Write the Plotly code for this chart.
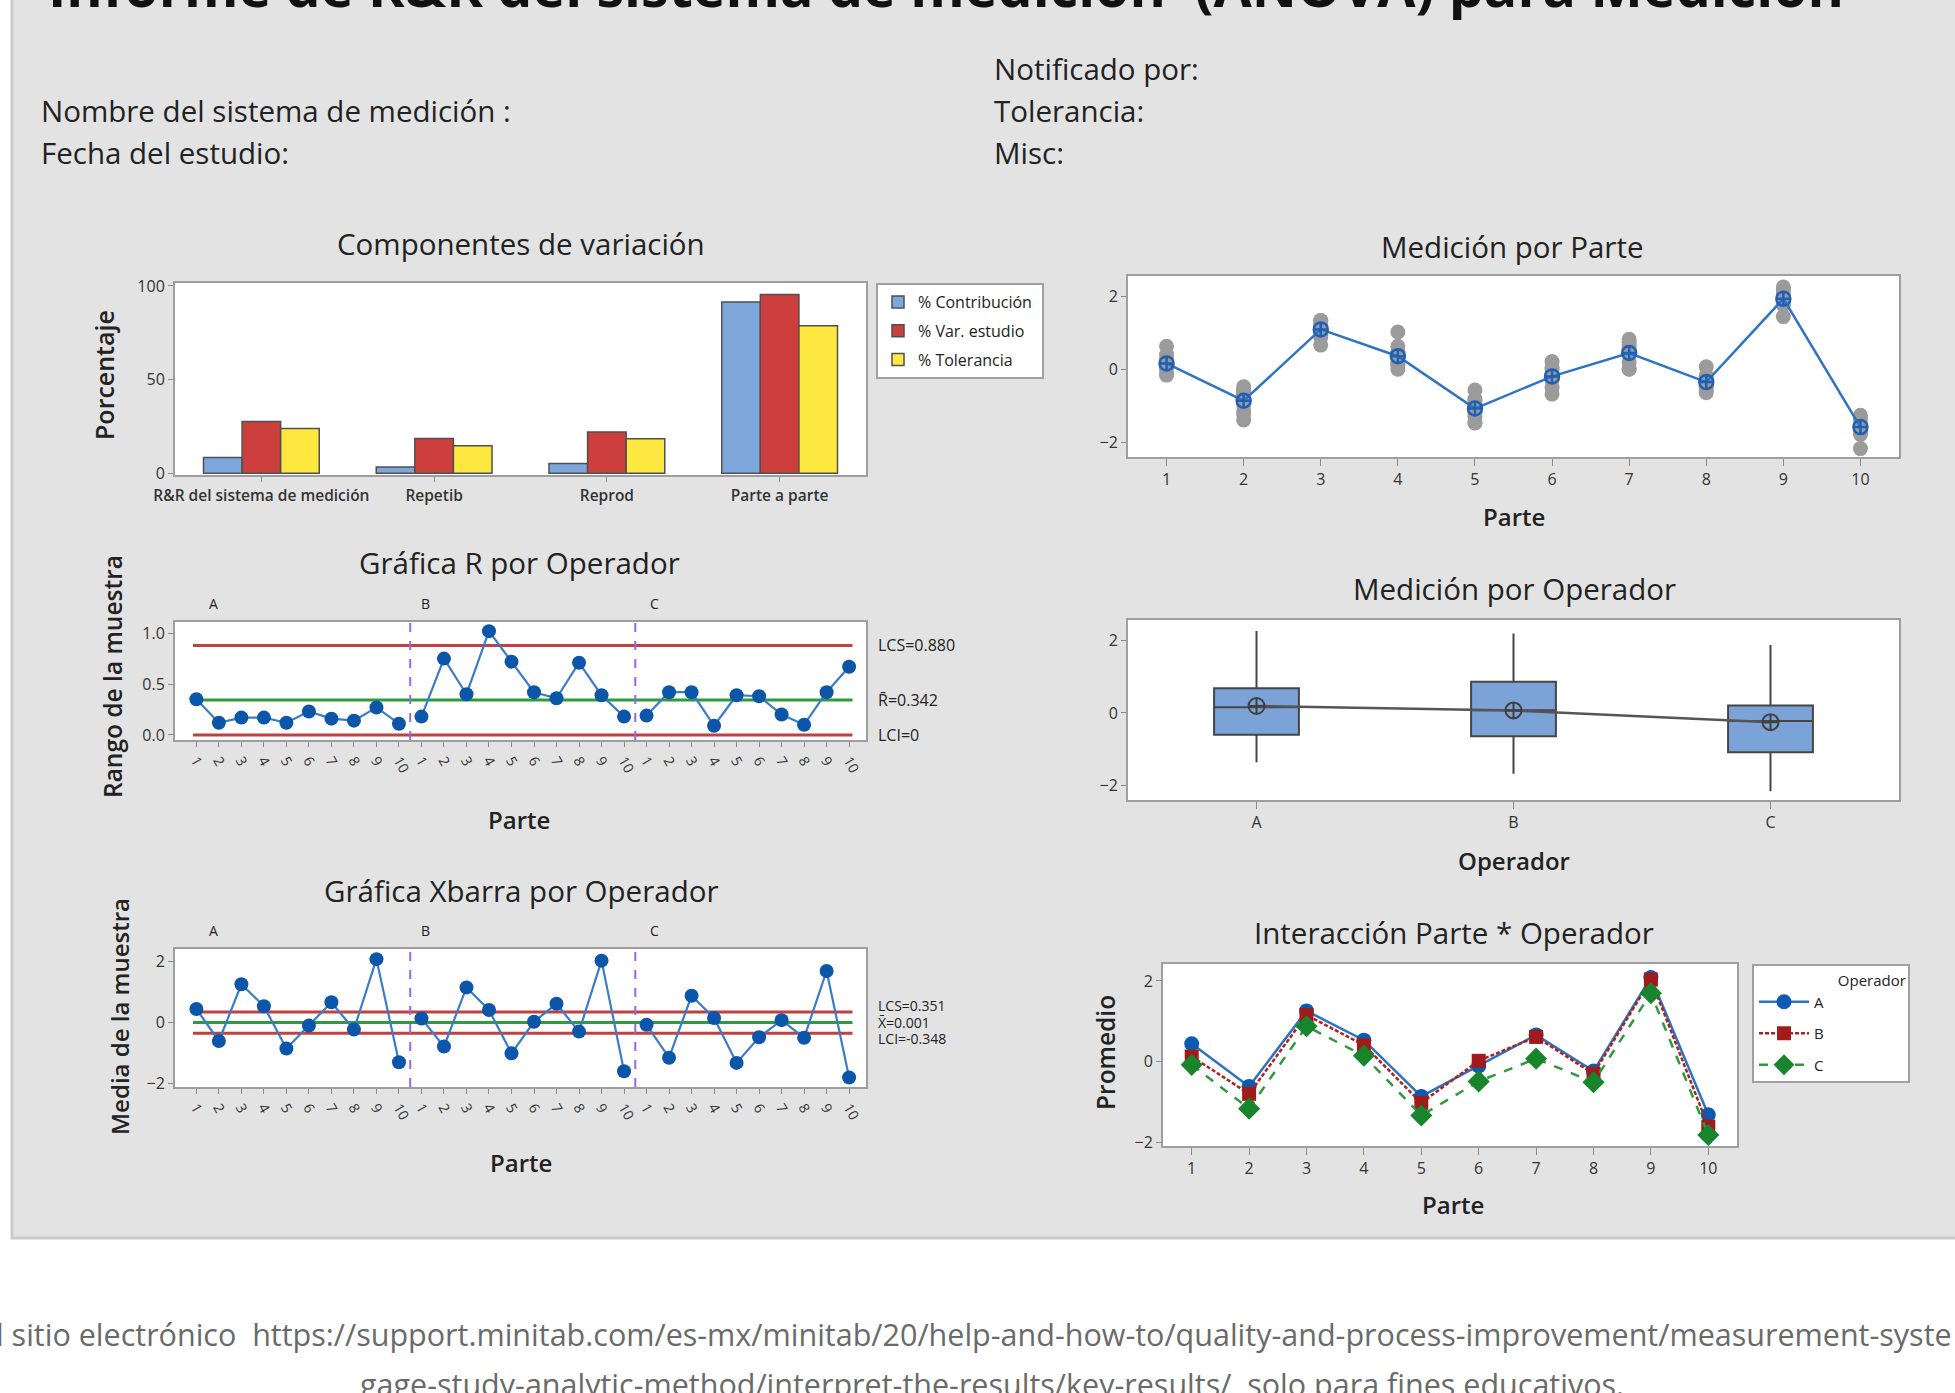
import numpy as np
import plotly.graph_objects as go

W, H = 1955, 1393
FONT = "Open Sans"

# ---------------- data ----------------
components = ["R&R del sistema de medición", "Repetib", "Reprod", "Parte a parte"]
pct_contribucion = [8.4, 3.3, 5.1, 91.5]
pct_var_estudio = [27.6, 18.5, 22.0, 95.4]
pct_tolerancia = [23.9, 14.6, 18.4, 78.8]

parts = [1, 2, 3, 4, 5, 6, 7, 8, 9, 10]
operators = ["A", "B", "C"]

A_t1 = [0.29, -0.56, 1.34, 0.47, -0.80, 0.02, 0.59, -0.31, 2.26, -1.36]
A_t2 = [0.41, -0.68, 1.17, 0.50, -0.92, -0.11, 0.75, -0.20, 1.99, -1.25]
A_t3 = [0.64, -0.58, 1.27, 0.64, -0.84, -0.21, 0.66, -0.17, 2.01, -1.31]
B_t1 = [0.08, -0.47, 1.19, 0.01, -0.56, -0.20, 0.47, -0.63, 1.80, -1.68]
B_t2 = [0.25, -1.22, 0.94, 1.03, -1.20, 0.22, 0.55, 0.08, 2.12, -1.62]
B_t3 = [0.07, -0.68, 1.34, 0.20, -1.28, 0.06, 0.83, -0.34, 2.19, -1.50]
C_t1 = [0.04, -1.38, 0.88, 0.14, -1.46, -0.29, 0.02, -0.46, 1.77, -1.49]
C_t2 = [-0.11, -1.13, 1.09, 0.20, -1.07, -0.67, 0.01, -0.56, 1.45, -1.77]
C_t3 = [-0.15, -0.96, 0.67, 0.11, -1.45, -0.49, 0.21, -0.49, 1.87, -2.16]

r_lcs, r_bar, r_lci = 0.880, 0.342, 0.0
x_lcs, x_bar, x_lci = 0.351, 0.001, -0.348

# ---------------- helpers ----------------
def fx(p):
    return p / W


def fy(p):
    return 1 - p / H


trials = {"A": [A_t1, A_t2, A_t3], "B": [B_t1, B_t2, B_t3], "C": [C_t1, C_t2, C_t3]}
means = {op: [float(np.mean([t[i] for t in trials[op]])) for i in range(10)] for op in operators}
ranges = {op: [max(t[i] for t in trials[op]) - min(t[i] for t in trials[op]) for i in range(10)] for op in operators}
seq_x = {op: [k * 10 + p for p in parts] for k, op in enumerate(operators)}

fig = go.Figure()

# ---- Componentes de variacion ----
bar_line = dict(color="#505050", width=1.5)
for name, vals, col in [("% Contribución", pct_contribucion, "#7DA7DA"),
                        ("% Var. estudio", pct_var_estudio, "#CC3F3D"),
                        ("% Tolerancia", pct_tolerancia, "#FDE840")]:
    fig.add_trace(go.Bar(x=components, y=vals, name=name + "\u00a0", legendgroup=name,
                         marker=dict(color=col, line=bar_line), xaxis="x", yaxis="y", legend="legend"))

# ---- R chart ----
for op in operators:
    fig.add_trace(go.Scatter(x=seq_x[op], y=ranges[op], mode="lines+markers", xaxis="x2", yaxis="y2",
                             line=dict(color="#3B7CC9", width=2.2),
                             marker=dict(color="#0B56A8", size=14), showlegend=False))

# ---- Xbar chart ----
for op in operators:
    fig.add_trace(go.Scatter(x=seq_x[op], y=means[op], mode="lines+markers", xaxis="x3", yaxis="y3",
                             line=dict(color="#3B7CC9", width=2.2),
                             marker=dict(color="#0B56A8", size=14), showlegend=False))

# ---- Medicion por Parte ----
gx, gy = [], []
for op in operators:
    for t in trials[op]:
        gx += parts
        gy += t
fig.add_trace(go.Scatter(x=gx, y=gy, mode="markers", xaxis="x4", yaxis="y4",
                         marker=dict(color="#9B9B9B", size=15), showlegend=False))
part_means = [float(np.mean([trials[op][t][i] for op in operators for t in range(3)])) for i in range(10)]
fig.add_trace(go.Scatter(x=parts, y=part_means, mode="lines+markers", xaxis="x4", yaxis="y4",
                         line=dict(color="#2F74C2", width=2.5),
                         marker=dict(symbol="circle-cross-open", color="#1F5FB4", size=14, line=dict(width=2.5)),
                         showlegend=False))

# ---- Medicion por Operador (boxes) ----
q1s, meds, q3s, los, his, mns = [], [], [], [], [], []
for op in operators:
    vals = np.array([v for t in trials[op] for v in t])
    q1, md, q3 = np.percentile(vals, [25, 50, 75], method="weibull")
    iqr = q3 - q1
    lo = vals[vals >= q1 - 1.5 * iqr].min()
    hi = vals[vals <= q3 + 1.5 * iqr].max()
    q1s.append(q1); meds.append(md); q3s.append(q3); los.append(lo); his.append(hi)
    mns.append(vals.mean())
op_pos = [1, 2, 3]
fig.add_trace(go.Scatter(x=op_pos, y=mns, mode="lines", xaxis="x5", yaxis="y5",
                         line=dict(color="#555555", width=2.5), showlegend=False))
fig.add_trace(go.Box(x=op_pos, q1=q1s, median=meds, q3=q3s, lowerfence=los, upperfence=his,
                     xaxis="x5", yaxis="y5", width=0.33, whiskerwidth=0,
                     fillcolor="#7BA3D8", line=dict(color="#454545", width=2), showlegend=False))
fig.add_trace(go.Scatter(x=op_pos, y=mns, mode="markers", xaxis="x5", yaxis="y5",
                         marker=dict(symbol="circle-cross-open", color="#404040", size=16, line=dict(width=2)),
                         showlegend=False))

# ---- Interaccion ----
styles = {
    "A": dict(color="#2E72C4", dash="solid", sym="circle", mcol="#0B5BB5", size=15),
    "B": dict(color="#A82424", dash="4px,2px", sym="square", mcol="#A11B1B", size=14),
    "C": dict(color="#2E9A3E", dash="dash", sym="diamond", mcol="#17852B", size=17),
}
for op in operators:
    s = styles[op]
    fig.add_trace(go.Scatter(x=parts, y=means[op], name=op + "\u00a0" * 17, mode="lines+markers",
                             xaxis="x6", yaxis="y6", legendgroup=op,
                             line=dict(color=s["color"], width=2.5, dash=s["dash"]),
                             marker=dict(symbol=s["sym"], color=s["mcol"], size=s["size"]),
                             legend="legend2"))

# ---------------- axes ----------------
TICKFONT = dict(family=FONT, size=16, color="#333333")


def axis(l, r, anchor, **kw):
    d = dict(domain=[fx(l), fx(r)], anchor=anchor, showline=True, mirror=True, linecolor="#9E9E9E",
             linewidth=2, ticks="outside", ticklen=5, tickcolor="#8A8A8A", showgrid=False, zeroline=False,
             tickfont=TICKFONT, fixedrange=True, automargin=False)
    d.update(kw)
    return d


def yaxis(t, b, anchor, **kw):
    d = dict(domain=[fy(b), fy(t)], anchor=anchor, showline=True, mirror=True, linecolor="#9E9E9E",
             linewidth=2, ticks="outside", ticklen=5, tickcolor="#8A8A8A", showgrid=False, zeroline=False,
             tickfont=TICKFONT, fixedrange=True, automargin=False)
    d.update(kw)
    return d


seq_ticks = list(range(1, 31))
seq_text = [str(p) for p in parts] * 3
SEQFONT = dict(family=FONT, size=14, color="#333")
LX0, LX1 = 175, 866

layout = dict(
    template="none",
    width=W, height=H, margin=dict(l=0, r=0, t=0, b=0, pad=0, autoexpand=False),
    paper_bgcolor="white", plot_bgcolor="white",
    barmode="group", bargap=0.33, bargroupgap=0,
    font=dict(family=FONT, color="#222222"),
    xaxis=axis(LX0, LX1, "y", tickfont=dict(family=FONT, size=15.5, color="#333", weight=600)),
    yaxis=yaxis(283, 475, "x", range=[-1, 101.6], tickvals=[0, 50, 100]),
    xaxis2=axis(LX0, LX1, "y2", range=[0.05, 30.75], tickvals=seq_ticks, ticktext=seq_text, tickangle=60,
                tickfont=SEQFONT),
    yaxis2=yaxis(622, 740, "x2", range=[-0.05, 1.11], tickvals=[0, 0.5, 1.0], ticktext=["0.0", "0.5", "1.0"]),
    xaxis3=axis(LX0, LX1, "y3", range=[0.05, 30.75], tickvals=seq_ticks, ticktext=seq_text, tickangle=60,
                tickfont=SEQFONT),
    yaxis3=yaxis(949, 1087, "x3", range=[-2.12, 2.42], tickvals=[-2, 0, 2]),
    xaxis4=axis(1128, 1899, "y4", range=[0.5, 10.5], tickvals=parts, ticklen=7),
    yaxis4=yaxis(276, 457, "x4", range=[-2.39, 2.56], tickvals=[-2, 0, 2]),
    xaxis5=axis(1128, 1899, "y5", range=[0.5, 3.5], tickvals=op_pos, ticktext=operators, ticklen=7),
    yaxis5=yaxis(620, 800, "x5", range=[-2.4, 2.56], tickvals=[-2, 0, 2]),
    xaxis6=axis(1163, 1737, "y6", range=[0.5, 10.5], tickvals=parts, ticklen=7),
    yaxis6=yaxis(964, 1146, "x6", range=[-2.08, 2.42], tickvals=[-2, 0, 2]),
    legend=dict(x=fx(876), y=fy(283), xanchor="left", yanchor="top", bgcolor="white",
                bordercolor="#A0A0A0", borderwidth=2, font=dict(family=FONT, size=16, color="#222"),
                tracegroupgap=5, itemclick=False),
    legend2=dict(x=fx(1752), y=fy(964), xanchor="left", yanchor="top", bgcolor="white",
                 bordercolor="#A0A0A0", borderwidth=2, font=dict(family=FONT, size=15, color="#222"),
                 title=dict(text="\u00a0" * 21 + "Operador", side="top", font=dict(family=FONT, size=15)),
                 itemwidth=50, tracegroupgap=9, itemclick=False),
)

# ---------------- shapes ----------------
shapes = [
    dict(type="rect", xref="paper", yref="paper", x0=fx(12), x1=fx(1975), y0=fy(1238), y1=fy(-10),
         fillcolor="#E3E3E3", line=dict(color="#CBCBCB", width=3), layer="below"),
]
for (l, r, t, b) in [(LX0, LX1, 283, 475), (LX0, LX1, 622, 740), (LX0, LX1, 949, 1087),
                     (1128, 1899, 276, 457), (1128, 1899, 620, 800), (1163, 1737, 964, 1146)]:
    shapes.append(dict(type="rect", xref="paper", yref="paper", x0=fx(l), x1=fx(r), y0=fy(b), y1=fy(t),
                       fillcolor="white", line=dict(width=0), layer="below"))

for xa, ya, lines in [("x2", "y2", [(r_lcs, "#C24040"), (r_bar, "#2F9B3A"), (r_lci, "#C24040")]),
                      ("x3", "y3", [(x_lcs, "#C24040"), (x_bar, "#2F9B3A"), (x_lci, "#C24040")])]:
    for val, col in lines:
        shapes.append(dict(type="line", xref=xa, yref=ya, x0=0.85, x1=30.15, y0=val, y1=val,
                           line=dict(color=col, width=3), layer="below"))
    for sep in [10.5, 20.5]:
        shapes.append(dict(type="line", xref=xa, yref=ya + " domain", x0=sep, x1=sep, y0=0, y1=1,
                           line=dict(color="#9B66E0", width=2, dash="dash")))
layout["shapes"] = shapes

# ---------------- annotations ----------------
ann = []


def text(t, x, y, size, xanchor="center", yanchor="middle", color="#222222", weight=400, angle=0):
    ann.append(dict(text=t, x=fx(x), y=fy(y), xref="paper", yref="paper",
                    xanchor=xanchor, yanchor=yanchor, showarrow=False, textangle=angle,
                    font=dict(family=FONT, size=size, color=color, weight=weight)))


text("Informe de R&R del sistema de medición\u00a0\u00a0(ANOVA) para Medición", 46, -14.5, 55.5,
     xanchor="left", weight=700, color="#111111")
text("Notificado por:", 992, 68.5, 29.5, xanchor="left")
text("Nombre del sistema de medición :", 38.5, 110.5, 29.5, xanchor="left")
text("Tolerancia:", 992, 110.5, 29.5, xanchor="left")
text("Fecha del estudio:", 38.5, 152.5, 29.5, xanchor="left")
text("Misc:", 992, 152.5, 29.5, xanchor="left")

text("Componentes de variación", 521, 243, 29.5)
text("Gráfica R por Operador", 519, 563, 29.5)
text("Gráfica Xbarra por Operador", 521, 890, 29.5)
text("Medición por Parte", 1512, 246, 29.5)
text("Medición por Operador", 1514, 588, 29.5)
text("Interacción Parte * Operador", 1454, 932, 29.5)

text("Porcentaje", 104, 375, 25, angle=-90, weight=600)
text("Rango de la muestra", 113, 677, 24.5, angle=-90, weight=600)
text("Media de la muestra", 119, 1017, 24, angle=-90, weight=600)
text("Promedio", 1105, 1053, 24.5, angle=-90, weight=600)

text("Parte", 519, 819, 24, weight=600)
text("Parte", 521, 1162, 24, weight=600)
text("Parte", 1514, 516, 24, weight=600)
text("Operador", 1514, 860, 24, weight=600)
text("Parte", 1453, 1204, 24, weight=600)

op_label_x = [1.75, 11.2, 21.35]
for k, op in enumerate(operators):
    for xa, ypx in [("x2", 604), ("x3", 942)]:
        ann.append(dict(text=op, x=op_label_x[k], y=fy(ypx), xref=xa, yref="paper", showarrow=False,
                        font=dict(family=FONT, size=14, color="#222")))

for val, lab, shift in [(r_lcs, "LCS=%.3f" % r_lcs, 0), (r_bar, "R\u0304=%.3f" % r_bar, 0), (r_lci, "LCI=0", 0)]:
    ann.append(dict(text=lab, x=fx(876), y=val, xref="paper", yref="y2", xanchor="left", showarrow=False,
                    yshift=shift, font=dict(family=FONT, size=16, color="#222")))
for val, lab, shift in [(x_lcs, "LCS=%.3f" % x_lcs, 6), (x_bar, "X\u0304=%.3f" % x_bar, 0),
                        (x_lci, "LCI=%.3f" % x_lci, -5)]:
    ann.append(dict(text=lab, x=fx(876), y=val, xref="paper", yref="y3", xanchor="left", showarrow=False,
                    yshift=shift, font=dict(family=FONT, size=14, color="#222")))

text("l sitio electrónico\u00a0\u00a0https://support.minitab.com/es-mx/minitab/20/help-and-how-to/quality-and-process-improvement/measurement-syste",
     -6, 1334, 30.5, xanchor="left", color="#6A6A6A")
text("gage-study-analytic-method/interpret-the-results/key-results/\u00a0\u00a0solo para fines educativos.",
     992, 1384, 30.5, color="#6A6A6A")

layout["annotations"] = ann
fig.update_layout(**layout)
fig.write_html("out.html", config={"displayModeBar": False},
               post_script="document.body.style.margin='0px';document.documentElement.style.overflow='hidden';")
